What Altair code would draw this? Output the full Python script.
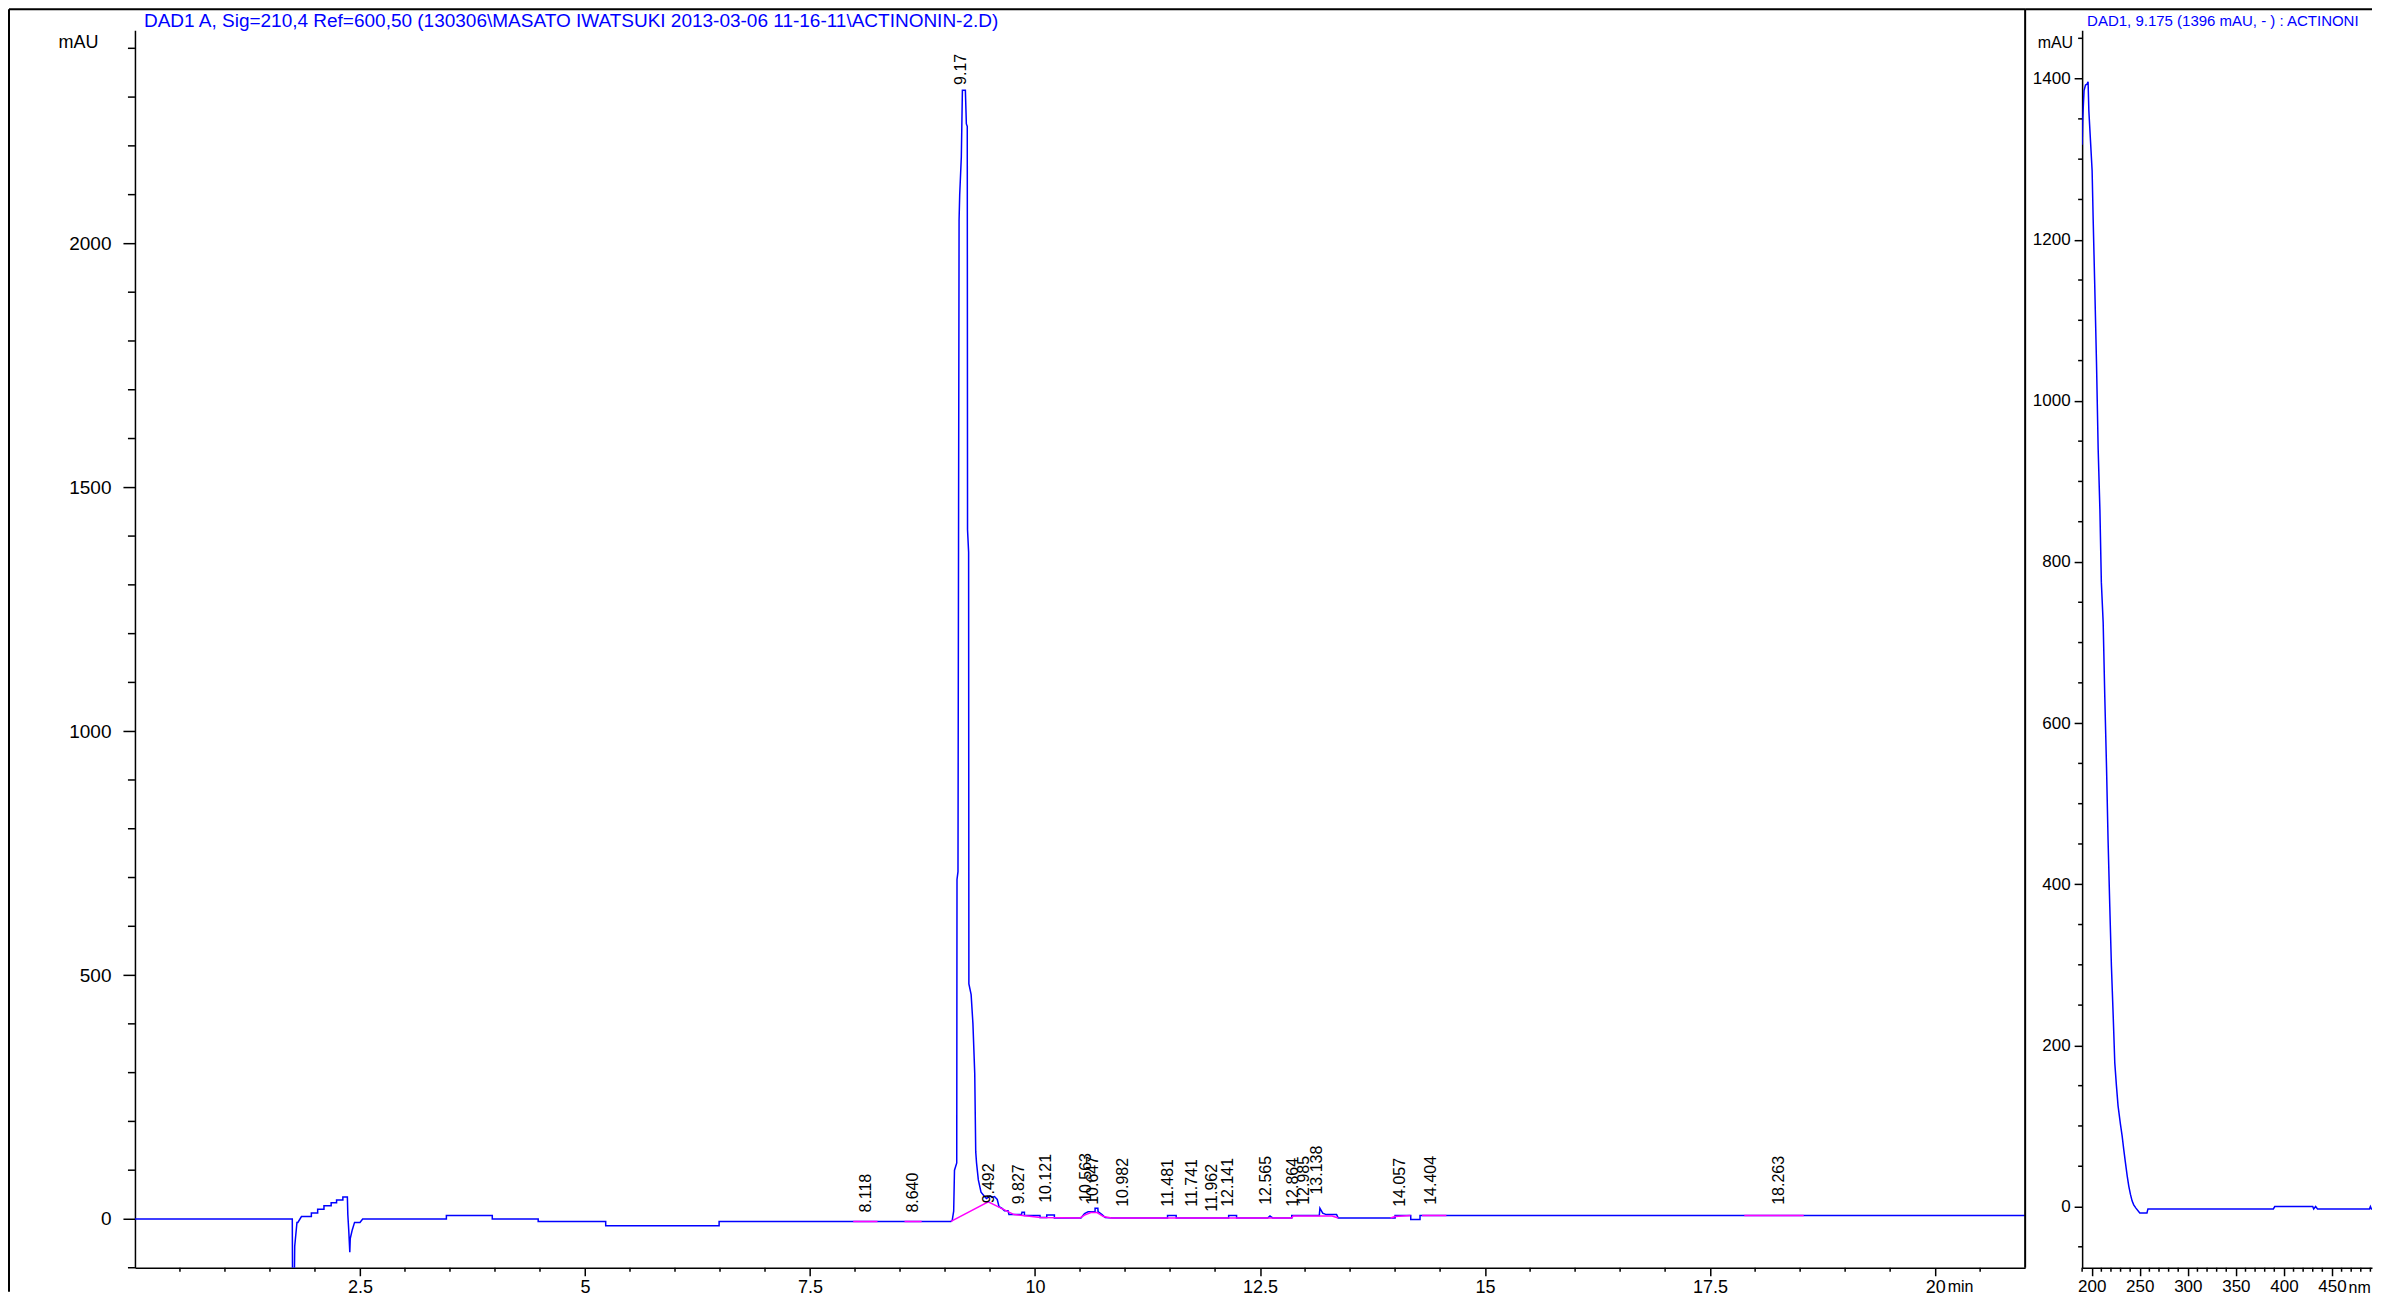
import altair as alt
import pandas as pd

TITLE_MAIN = "DAD1 A, Sig=210,4 Ref=600,50 (130306\\MASATO IWATSUKI 2013-03-06 11-16-11\\ACTINONIN-2.D)"
TITLE_SPEC = "DAD1, 9.175 (1396 mAU, -  ) : ACTINONIN-2.D"

# ---- chromatogram (time [min], signal [mAU]) ----
trace_early = [
    (0.0, 0), (1.748, 0), (1.752, -170), (1.768, -170), (1.775, -56), (1.80, -7), (1.81, -7),
    (1.85, 5), (1.96, 5), (1.96, 12), (2.03, 12), (2.03, 20), (2.10, 20), (2.10, 27),
    (2.18, 27), (2.18, 33), (2.24, 33), (2.24, 39), (2.31, 39), (2.31, 45), (2.36, 45),
    (2.365, 9), (2.375, -22), (2.387, -68), (2.392, -40), (2.415, -22), (2.44, -7),
    (2.50, -7), (2.53, 0), (3.46, 0), (3.46, 7), (3.97, 7), (3.97, 0), (4.48, 0),
    (4.48, -5), (5.23, -5), (5.23, -14), (6.49, -14), (6.49, -5), (9.066, -5),
]
trace_peak = [
    (9.08, -3), (9.096, 16), (9.105, 100), (9.13, 115), (9.133, 696), (9.144, 712),
    (9.156, 2047), (9.163, 2100), (9.181, 2177), (9.193, 2314), (9.226, 2314),
    (9.237, 2245), (9.247, 2240), (9.25, 1413), (9.262, 1367), (9.265, 482), (9.29, 460),
    (9.31, 400), (9.33, 298), (9.341, 138), (9.35, 115), (9.37, 80), (9.40, 55),
    (9.43, 48), (9.46, 42), (9.50, 47), (9.52, 44), (9.55, 46), (9.58, 40), (9.60, 25),
    (9.63, 22), (9.66, 17), (9.70, 17), (9.71, 9),
]
trace_tail = [
    (9.85, 9), (9.855, 14), (9.882, 14), (9.882, 7), (10.055, 7), (10.055, 3), (10.13, 3),
    (10.13, 8), (10.215, 8), (10.215, 2), (10.51, 2), (10.55, 11), (10.59, 15),
    (10.667, 15), (10.667, 22), (10.698, 22), (10.70, 15), (10.744, 9), (10.78, 3),
    (10.86, 2), (11.472, 2), (11.472, 7), (11.568, 7), (11.568, 2), (12.151, 2),
    (12.151, 7), (12.239, 7), (12.239, 2), (12.584, 2), (12.61, 6), (12.641, 2),
    (12.852, 2), (12.852, 7), (13.158, 7), (13.165, 22), (13.196, 12), (13.235, 9),
    (13.35, 9), (13.369, 2), (14.0, 2), (14.0, 7), (14.174, 7), (14.174, -1),
    (14.277, -1), (14.277, 7), (21.0, 7),
]

# integration baselines (magenta)
integ_a = [(7.98, -5), (8.25, -5)]
integ_b = [(8.55, -5), (8.74, -5)]
integ_c = [(9.066, -5), (9.48, 35), (9.767, 9), (10.06, 3), (10.5, 2)]
integ_d = [(10.5, 2), (10.55, 8), (10.62, 13), (10.69, 13), (10.76, 5), (10.85, 2),
           (12.85, 2), (12.87, 6), (13.3, 6), (13.37, 2)]
integ_e = [(13.95, 2), (14.0, 5), (14.17, 7)]
integ_f = [(14.30, 7), (14.57, 7)]
integ_g = [(17.88, 7), (18.54, 7)]

# peak annotations
peak_labels = ["8.118", "8.640", "9.17", "9.492", "9.827", "10.121", "10.563", "10.647",
               "10.982", "11.481", "11.741", "11.962", "12.141", "12.565", "12.864",
               "12.985", "13.138", "14.057", "14.404", "18.263"]
peak_rt = [8.118, 8.640, 9.175, 9.492, 9.827, 10.121, 10.563, 10.647, 10.982, 11.481,
           11.741, 11.962, 12.141, 12.565, 12.864, 12.985, 13.138, 14.057, 14.404, 18.263]
peak_label_base = [13, 13, 2325, 32, 30, 33, 35, 29, 25, 25, 25, 15, 25, 29, 25, 29, 50,
                   25, 29, 29]

# UV spectrum at 9.175 min (nm, mAU)
spectrum = [
    (190, 1318), (190.6, 1350), (192, 1385), (193.5, 1392), (195, 1393), (196.2, 1396),
    (197, 1360), (198.7, 1323), (200.4, 1286), (201.5, 1225), (203, 1150), (205, 1045),
    (206.7, 940), (208.5, 865), (210, 775), (211.9, 725), (213.6, 632), (215.4, 545),
    (217, 455), (218.8, 372), (220.5, 298), (222.3, 238), (224, 178), (225.7, 150),
    (227.4, 125), (229.9, 102), (231.6, 88), (233.4, 70), (235, 55), (236.9, 38),
    (238.6, 25), (240.3, 15), (242, 7), (243.7, 2), (246, -2), (250, -8), (257.5, -8),
    (258.5, -3), (389, -3), (390.5, 0), (430, 0), (431, -3), (433, 0), (435, -3),
    (489, -3), (490, 0), (491, -3), (500, -3),
]

x_major = [2.5, 5, 7.5, 10, 12.5, 15, 17.5, 20]
x_minor = [k * 0.5 for k in range(1, 42) if k % 5 != 0]
y_major = [0, 500, 1000, 1500, 2000]
y_minor = [k * 100 for k in range(-1, 25) if k % 5 != 0]
nm_major = [200, 250, 300, 350, 400, 450]
nm_minor = [v for v in range(190, 491, 10) if v % 50 != 0]
sy_major = [0, 200, 400, 600, 800, 1000, 1200, 1400]
sy_minor = [v for v in range(-50, 1451, 50) if v % 200 != 0]

# ---- layout constants ----
W1, H, W2 = 1891, 1238, 290
FONT = "Liberation Sans"
BLUE = "#0000ff"
PINK = "#ff00ff"

trace_rows = trace_early + trace_peak + trace_tail
df_trace = pd.DataFrame(trace_rows, columns=["x", "y"])
df_trace["i"] = range(len(df_trace))

integ_rows = []
for s, seg in enumerate([integ_a, integ_b, integ_c, integ_d, integ_e, integ_f, integ_g]):
    for j, (t, v) in enumerate(seg):
        integ_rows.append({"x": t, "y": v, "seg": s, "i": j})
df_integ = pd.DataFrame(integ_rows)

df_lab = pd.DataFrame({"label": peak_labels, "x": peak_rt, "y": peak_label_base})
df_spec = pd.DataFrame(spectrum, columns=["x", "y"])
df_spec["i"] = range(len(df_spec))
one = pd.DataFrame({"a": [0]})

xs = alt.Scale(domain=[0, 21], nice=False, zero=False)
ys = alt.Scale(domain=[-100, 2437], nice=False, zero=False)

AX1 = alt.Axis(values=x_major, format=".4~g", tickSize=8, labelFontSize=18, labelPadding=3,
               labelFlush=False, labelOverlap=False, title="min", titleX=1813, titleY=19,
               titleAlign="left", titleBaseline="middle", titleFontSize=16)
AY1 = alt.Axis(values=y_major, format="d", tickSize=12, labelPadding=12, labelFontSize=19,
               title="mAU", labelOverlap=False, titleAngle=0, titleX=-77, titleY=12,
               titleAlign="left", titleBaseline="middle", titleFontSize=18)


def X1(f="x:Q"):
    return alt.X(f, scale=xs, axis=AX1)


def Y1(f="y:Q"):
    return alt.Y(f, scale=ys, axis=AY1)


trace = alt.Chart(df_trace).mark_line(color=BLUE, strokeWidth=1.5, clip=True).encode(
    x=X1(), y=Y1(), order="i:Q")
integ = alt.Chart(df_integ).mark_line(color=PINK, strokeWidth=1.5, clip=True).encode(
    x=X1(), y=Y1(), detail="seg:N", order="i:Q")
labels = alt.Chart(df_lab).mark_text(angle=270, align="left", baseline="middle",
                                     fontSize=16, font=FONT, color="black").encode(
    x=X1(), y=Y1(), text="label:N")
minor_x = alt.Chart(pd.DataFrame({"x": x_minor})).mark_rule(color="black", strokeWidth=1.5).encode(
    x=X1(), y=alt.value(H), y2=alt.value(H + 4))
minor_y = alt.Chart(pd.DataFrame({"y": y_minor})).mark_rule(color="black", strokeWidth=1.5).encode(
    y=Y1(), x=alt.value(-7), x2=alt.value(0))
title1 = alt.Chart(pd.DataFrame({"s": [TITLE_MAIN]})).mark_text(
    align="left", baseline="middle", fontSize=19, font=FONT, color=BLUE).encode(
    x=alt.value(9), y=alt.value(-9), text="s:N")
frame_left = alt.Chart(one).mark_rule(color="black", strokeWidth=2).encode(
    x=alt.value(-126), y=alt.value(-21), y2=alt.value(1262))
frame_top1 = alt.Chart(one).mark_rule(color="black", strokeWidth=2).encode(
    y=alt.value(-21), x=alt.value(-126), x2=alt.value(W1))
divider = alt.Chart(one).mark_rule(color="black", strokeWidth=2).encode(
    x=alt.value(W1), y=alt.value(-21), y2=alt.value(H))

p1 = alt.layer(trace, integ, labels, minor_x, minor_y, title1, frame_left, frame_top1,
               divider).properties(width=W1, height=H)

xs2 = alt.Scale(domain=[190, 190 + W2 / 0.9613], nice=False, zero=False)
ys2 = alt.Scale(domain=[-76, 1460], nice=False, zero=False)

AX2 = alt.Axis(values=nm_major, tickSize=8, labelFontSize=17, labelPadding=3, labelFlush=False,
               labelOverlap=False, title="nm", titleX=266, titleY=20, titleAlign="left",
               titleBaseline="middle", titleFontSize=16)
AY2 = alt.Axis(values=sy_major, format="d", tickSize=8, labelPadding=4, labelFontSize=17,
               title="mAU", labelOverlap=False, titleAngle=0, titleX=-45, titleY=12,
               titleAlign="left", titleBaseline="middle", titleFontSize=16)


def X2(f="x:Q"):
    return alt.X(f, scale=xs2, axis=AX2)


def Y2(f="y:Q"):
    return alt.Y(f, scale=ys2, axis=AY2)


spec = alt.Chart(df_spec).mark_line(color=BLUE, strokeWidth=1.5, clip=True).encode(
    x=X2(), y=Y2(), order="i:Q")
minor_nm = alt.Chart(pd.DataFrame({"x": nm_minor})).mark_rule(color="black", strokeWidth=1.5).encode(
    x=X2(), y=alt.value(H), y2=alt.value(H + 4))
minor_sy = alt.Chart(pd.DataFrame({"y": sy_minor})).mark_rule(color="black", strokeWidth=1.5).encode(
    y=Y2(), x=alt.value(-4), x2=alt.value(0))
title2 = alt.Chart(pd.DataFrame({"s": [TITLE_SPEC]})).mark_text(
    align="left", baseline="middle", fontSize=15, font=FONT, color=BLUE, limit=285,
    ellipsis=" ").encode(x=alt.value(5), y=alt.value(-9), text="s:N")
frame_top2 = alt.Chart(one).mark_rule(color="black", strokeWidth=2).encode(
    y=alt.value(-21), x=alt.value(-57), x2=alt.value(W2))

p2 = alt.layer(spec, minor_nm, minor_sy, title2, frame_top2).properties(width=W2, height=H)

chart = alt.hconcat(p1, p2, spacing=57, bounds="flush").properties(
    padding=0, background="white"
).configure_view(stroke=None).configure_axis(
    grid=False, domainColor="black", tickColor="black", labelColor="black",
    titleColor="black", labelFont=FONT, titleFont=FONT, domainWidth=1.5, tickWidth=1.5,
    titleFontWeight="normal", labelFontWeight="normal",
)

chart.save("out.html", embed_options={"renderer": "svg", "actions": False})
